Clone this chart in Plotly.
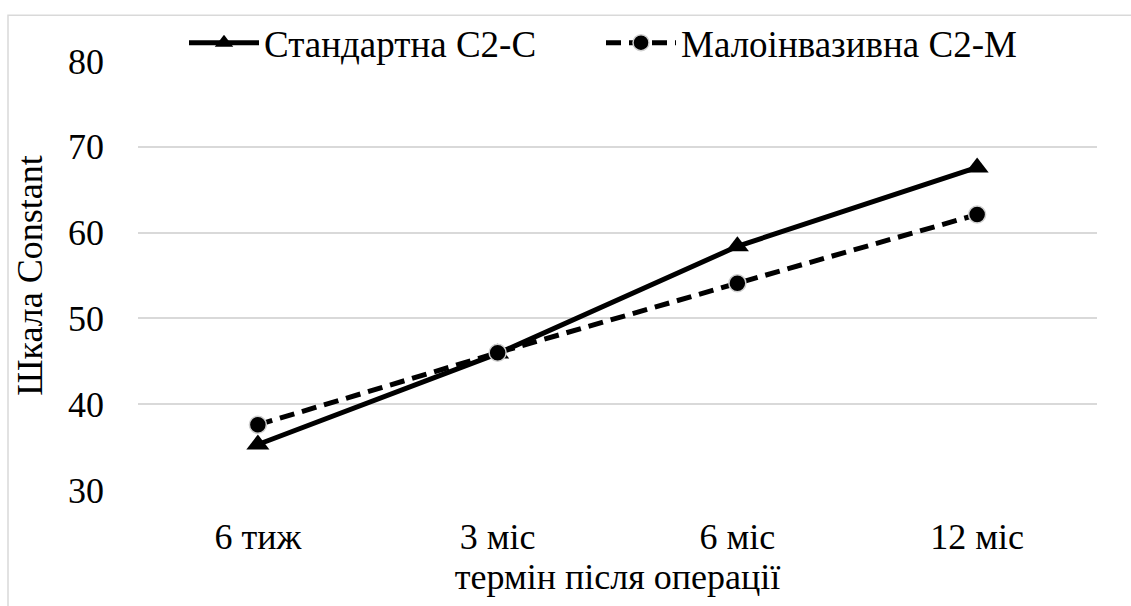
import plotly.graph_objects as go

categories = ["6 тиж", "3 міс", "6 міс", "12 міс"]
standard = [35.3, 45.9, 58.4, 67.6]
minimal = [37.6, 46.0, 54.1, 62.1]
series_names = ["Стандартна С2-С", "Малоінвазивна С2-М"]

W, H = 1131, 606
L, R, T, B = 138, 34, 58, 116
FONT = "Liberation Serif"
FS = 36

fig = go.Figure()
fig.add_trace(go.Scatter(
    x=categories, y=standard, name=series_names[0], mode="lines+markers",
    line=dict(color="black", width=5),
    marker=dict(symbol="triangle-up", size=20, color="black", line=dict(width=0)),
))
fig.add_trace(go.Scatter(
    x=categories, y=minimal, name=series_names[1], mode="lines+markers",
    line=dict(color="black", width=5, dash="15px,8px"),
    marker=dict(symbol="circle", size=17, color="black", line=dict(width=1.5, color="#d0d0d0")),
))

pw, ph = W - L - R, H - T - B
def px2x(p):
    return (p - L) / pw
def px2y(p):
    return (H - B - p) / ph

fig.add_shape(type="rect", xref="paper", yref="paper",
              x0=px2x(8), x1=px2x(1140), y0=px2y(620), y1=px2y(12),
              line=dict(color="#d9d9d9", width=1.5), layer="below")

fig.update_layout(
    width=W, height=H,
    margin=dict(l=L, r=R, t=T, b=B),
    paper_bgcolor="white", plot_bgcolor="white",
    font=dict(family=FONT, color="black", size=FS),
    showlegend=True,
    legend=dict(orientation="h", x=px2x(184), xanchor="left", y=px2y(40), yanchor="middle",
                font=dict(family=FONT, size=37, color="black"),
                itemwidth=70, entrywidth=332, entrywidthmode="pixels",
                bgcolor="rgba(0,0,0,0)", tracegroupgap=0),
    xaxis=dict(
        type="category", range=[-0.5, 3.5], showgrid=False, zeroline=False, showline=False,
        ticks="", tickfont=dict(family=FONT, size=FS), ticklabelstandoff=22,
        title=dict(text="термін після операції", font=dict(family=FONT, size=FS), standoff=2),
    ),
    yaxis=dict(
        range=[30, 80], dtick=10, showgrid=True, gridcolor="#d9d9d9", gridwidth=1.5,
        zeroline=False, showline=False, ticks="", ticklabelstandoff=33,
        tickfont=dict(family=FONT, size=FS),
        title=dict(text="Шкала Constant", font=dict(family=FONT, size=FS), standoff=14),
    ),
)

fig.write_html("out.html")
